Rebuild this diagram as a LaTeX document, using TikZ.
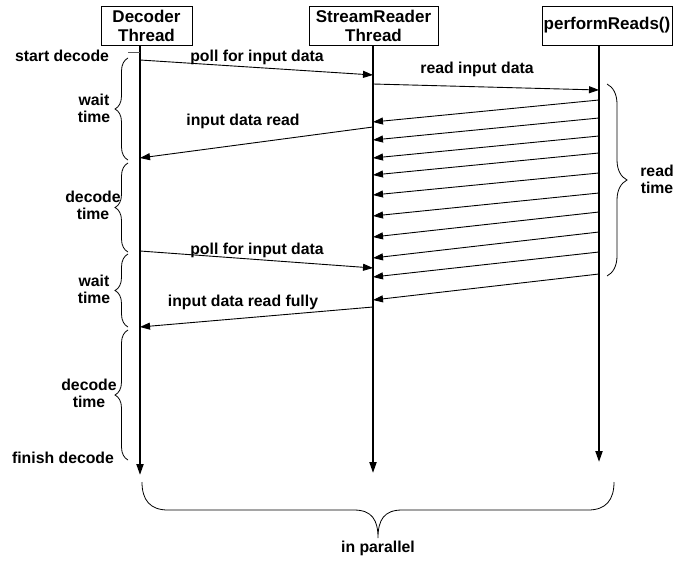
\documentclass[tikz,border=0pt]{standalone}
\usepackage{fontspec}
\setmainfont{Liberation Sans}
\usetikzlibrary{arrows.meta,decorations.pathreplacing}
\begin{document}
\begin{tikzpicture}[x=1pt,y=-1pt,
  hdr/.style={draw,line width=1pt,inner sep=0,align=center,font=\fontsize{17}{19}\selectfont\bfseries},
  lbl/.style={inner sep=0,align=center,font=\fontsize{15.8}{17}\selectfont\bfseries},
  msg/.style={line width=0.9pt,-{Triangle[length=10pt,width=7pt]}},
  life/.style={line width=2pt,-{Triangle[length=11pt,width=7pt]}},
  brc/.style={decorate,decoration={brace,amplitude=13pt},line width=0.8pt}]
\useasboundingbox (0,0) rectangle (692,562);
% headers
\node[hdr,minimum width=91pt,minimum height=39pt] (dec) at (146.5,25.5) {Decoder\\Thread};
\node[hdr,minimum width=129pt,minimum height=39pt] (srt) at (373.5,25.5) {StreamReader\\Thread};
\node[hdr,minimum width=130pt,minimum height=39pt] (prf) at (607,25.5) {performReads()};
% lifelines
\coordinate (decT) at (140,45); \coordinate (decB) at (140,475);
\coordinate (srtT) at (373,45); \coordinate (srtB) at (373,473);
\coordinate (prfT) at (599,45); \coordinate (prfB) at (599,462);
\draw[life] (decT) -- (decB);
\draw[life] (srtT) -- (srtB);
\draw[life] (prfT) -- (prfB);
% start tick
\coordinate (t1) at (128,52); \coordinate (t2) at (140,52);
\draw[line width=0.8pt,gray!70!black] (t1) -- (t2);
% messages
\coordinate (m1a) at (140,60); \coordinate (m1b) at (373,75);
\draw[msg] (m1a) -- (m1b);
\coordinate (m2a) at (373,84); \coordinate (m2b) at (599,90);
\draw[msg] (m2a) -- (m2b);
\coordinate (m3a) at (373,127); \coordinate (m3b) at (140,158);
\draw[msg] (m3a) -- (m3b);
\coordinate (m4a) at (140,251); \coordinate (m4b) at (373,268);
\draw[msg] (m4a) -- (m4b);
\coordinate (m5a) at (373,307); \coordinate (m5b) at (140,327);
\draw[msg] (m5a) -- (m5b);
\foreach \a/\b [count=\i] in {100/122,118/140,136/158,153/175,173/195,193/216,212/237,232/258,252/277,274/300}{
  \coordinate (ra\i) at (599,\a); \coordinate (rb\i) at (373,\b);
  \draw[msg] (ra\i) -- (rb\i);
}
% labels
\node[lbl] (l1) at (62,56) {start decode};
\node[lbl] (l2) at (257,57) {poll for input data};
\node[lbl] (l3) at (477,69) {read input data};
\node[lbl] (l4) at (243,121) {input data read};
\node[lbl] (l5) at (257,250) {poll for input data};
\node[lbl] (l6) at (243,302) {input data read fully};
\node[lbl] (l7) at (94,108.5) {wait\\time};
\node[lbl] (l8) at (93,205.5) {decode\\time};
\node[lbl] (l9) at (94,289.5) {wait\\time};
\node[lbl] (l10) at (89,393.5) {decode\\time};
\node[lbl] (l11) at (63,458) {finish decode};
\node[lbl] (l12) at (657,179.5) {read\\time};
\node[lbl] (l13) at (378,548) {in parallel};
% braces
\coordinate (b1a) at (128,160); \coordinate (b1b) at (128,58);
\draw[brc] (b1a) -- (b1b);
\coordinate (b2a) at (128,252); \coordinate (b2b) at (128,163);
\draw[brc] (b2a) -- (b2b);
\coordinate (b3a) at (128,327); \coordinate (b3b) at (128,254);
\draw[brc] (b3a) -- (b3b);
\coordinate (b4a) at (128,460); \coordinate (b4b) at (128,330);
\draw[brc] (b4a) -- (b4b);
\coordinate (b5a) at (607,84); \coordinate (b5b) at (607,276);
\draw[brc,decoration={amplitude=20pt}] (b5a) -- (b5b);
% bottom brace
\coordinate (bbL) at (142,482); \coordinate (bbR) at (614,482); \coordinate (bbT) at (378,538);
\draw[line width=0.8pt] (bbL) .. controls (142,500) and (150,510) .. (168,510) -- (354,510)
  .. controls (372,510) and (378,520) .. (bbT)
  .. controls (378,520) and (384,510) .. (402,510) -- (588,510)
  .. controls (606,510) and (614,500) .. (bbR);
\end{tikzpicture}
\end{document}
